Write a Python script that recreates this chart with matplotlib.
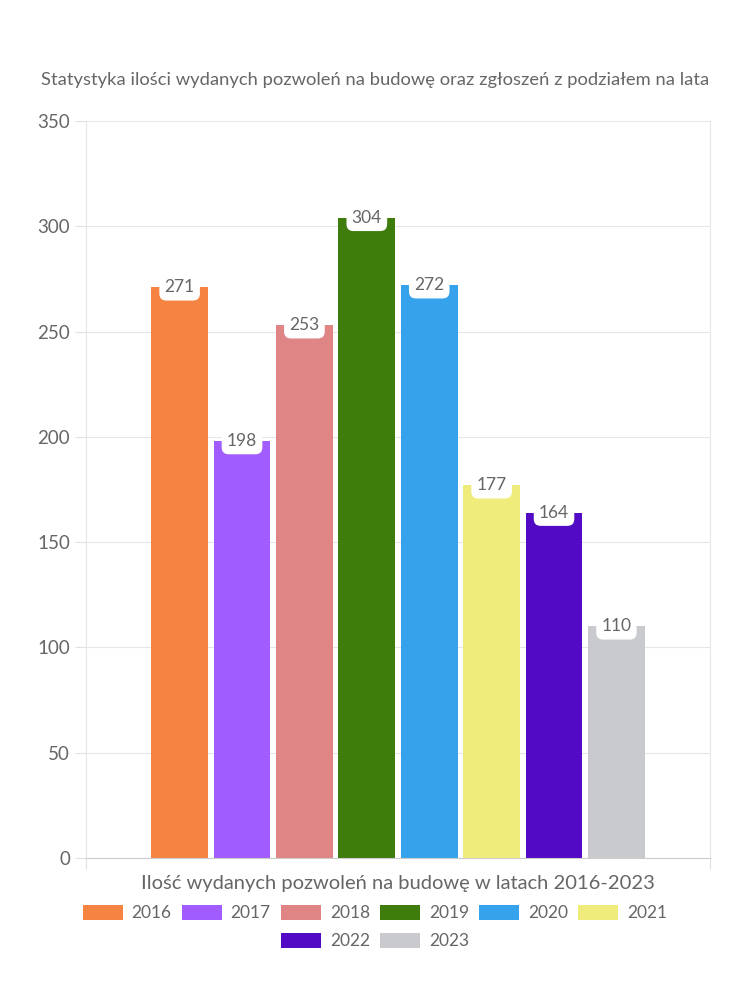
import numpy as np
import matplotlib.pyplot as plt

# data
years = ["2016", "2017", "2018", "2019", "2020", "2021", "2022", "2023"]
permits = [271, 198, 253, 304, 272, 177, 164, 110]
colors = ["#f58442", "#a05cff", "#e08585", "#3e7c0c",
          "#36a2eb", "#f0ec7c", "#520ac4", "#c9cace"]

title = "Statystyka ilości wydanych pozwoleń na budowę oraz zgłoszeń z podziałem na lata"
xlabel = "Ilość wydanych pozwoleń na budowę w latach 2016-2023"

plt.rcParams["font.family"] = ["Lato", "DejaVu Sans"]
text_color = "#666666"

fig = plt.figure(figsize=(7.5, 10), dpi=100)
ax = fig.add_axes([0.1147, 0.142, 0.832, 0.737])

x = np.arange(len(years))
bars = ax.bar(x, permits, width=0.91, color=colors, zorder=2)

for xi, v in zip(x, permits):
    ax.text(xi, v, str(v), ha="center", va="center", fontsize=12.5,
            color=text_color, zorder=3,
            bbox=dict(boxstyle="round,pad=0.3,rounding_size=0.4",
                      fc="white", ec="none"))

ax.set_xlim(-1.5, 8.5)
ax.set_ylim(0, 350)
ax.set_yticks(range(0, 351, 50))
ax.set_xticks([-1.5, 8.5])
ax.set_xticklabels([])
ax.grid(axis="y", color="#e6e6e6", linewidth=0.8, zorder=0)
ax.tick_params(axis="y", colors="#e0e0e0", labelcolor=text_color,
               labelsize=13.5, length=8, width=0.8)
ax.tick_params(axis="x", colors="#e0e0e0", length=8, width=0.8)

for side in ["left", "right", "top"]:
    ax.spines[side].set_color("#e6e6e6")
    ax.spines[side].set_linewidth(0.8)
ax.spines["top"].set_visible(False)
ax.spines["bottom"].set_color("#cccccc")

ax.set_xlabel(xlabel, fontsize=14.5, color=text_color, labelpad=1)
fig.text(0.5, 0.92, title, ha="center", va="center", fontsize=13.2,
         color=text_color)

# legend in two rows (fig.legend keeps both)
leg_kw = dict(loc="center", frameon=False, fontsize=12.5,
              labelcolor=text_color, handlelength=2.3, handleheight=1.0,
              columnspacing=0.6, handletextpad=0.5)
fig.legend(bars[:6], years[:6], ncol=6,
           bbox_to_anchor=(0.5, 0.087), **leg_kw)
fig.legend(bars[6:], years[6:], ncol=2,
           bbox_to_anchor=(0.5, 0.059), **leg_kw)

fig.savefig("out.png", dpi=100, facecolor="white")
